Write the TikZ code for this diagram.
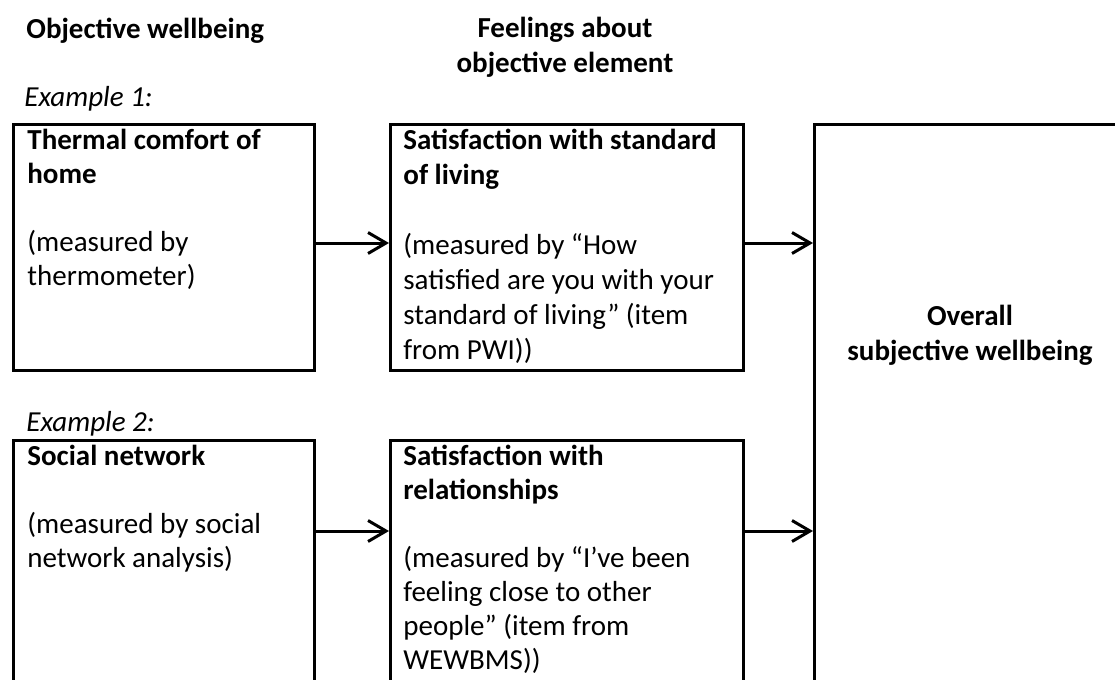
\documentclass[tikz,border=0pt]{standalone}
\usepackage{fontspec}
\setmainfont{Carlito}
\usetikzlibrary{arrows.meta}

\begin{document}
\begin{tikzpicture}[x=0.5pt,y=-0.5pt,
  box/.style={draw,line width=1.5pt,anchor=north west,inner sep=0pt},
  boxtext/.style={anchor=north west,inner sep=0pt,align=left,font=\fontsize{14.5}{17}\selectfont},
  head/.style={inner sep=0pt,font=\fontsize{14.5}{17.5}\selectfont\bfseries},
  arr/.style={-{Straight Barb[length=9pt,width=10.5pt,line width=1.5pt]},line width=1.5pt}]
\useasboundingbox (0,0) rectangle (1115,680);
\fill[white] (0,0) rectangle (1115,680);

% column headings
\node[head,anchor=base west] (objhead) at (26,39) {Objective wellbeing};
\node[head,align=center] (feelhead) at (565,47) {Feelings about\\objective element};
\node[head,anchor=base west,font=\fontsize{14.5}{17}\selectfont\itshape] (ex1) at (24,106) {Example 1:};
\node[head,anchor=base west,font=\fontsize{14.5}{17}\selectfont\itshape] (ex2) at (26,431) {Example 2:};

% boxes
\node[box,minimum width=150.5pt,minimum height=123pt] (therm) at (12,123) {};
\node[box,minimum width=176.5pt,minimum height=123pt] (stdliv) at (389,123) {};
\node[box,minimum width=150.5pt,minimum height=140.5pt] (social) at (12,439) {};
\node[box,minimum width=176.5pt,minimum height=140.5pt] (relat) at (389,439) {};
\node[box,minimum width=157pt,minimum height=298.5pt] (overall) at (813,123) {};

% box texts
\node[boxtext] (thermtxt) at ([shift={(15,6)}]therm.north west)
  {\textbf{Thermal comfort of}\\\textbf{home}\\[17pt](measured by\\thermometer)};
\node[boxtext,font=\fontsize{14.5}{17.5}\selectfont] (stdlivtxt) at ([shift={(14,6)}]stdliv.north west)
  {\textbf{Satisfaction with standard}\\\textbf{of living}\\[17.5pt](measured by “How\\satisfied are you with your\\standard of living” (item\\from PWI))};
\node[boxtext] (socialtxt) at ([shift={(15,6)}]social.north west)
  {\textbf{Social network}\\[17pt](measured by social\\network analysis)};
\node[boxtext] (relattxt) at ([shift={(14,6)}]relat.north west)
  {\textbf{Satisfaction with}\\\textbf{relationships}\\[17pt](measured by “I’ve been\\feeling close to other\\people” (item from\\WEWBMS))};
\node[head,align=center] (overalltxt) at (970,335) {Overall\\subjective wellbeing};

% arrows
\coordinate (row1) at (0,243);
\coordinate (row2) at (0,531);
\draw[arr] (therm.east |- row1) -- (stdliv.west |- row1);
\draw[arr] (stdliv.east |- row1) -- (overall.west |- row1);
\draw[arr] (social.east |- row2) -- (relat.west |- row2);
\draw[arr] (relat.east |- row2) -- (overall.west |- row2);
\end{tikzpicture}
\end{document}
